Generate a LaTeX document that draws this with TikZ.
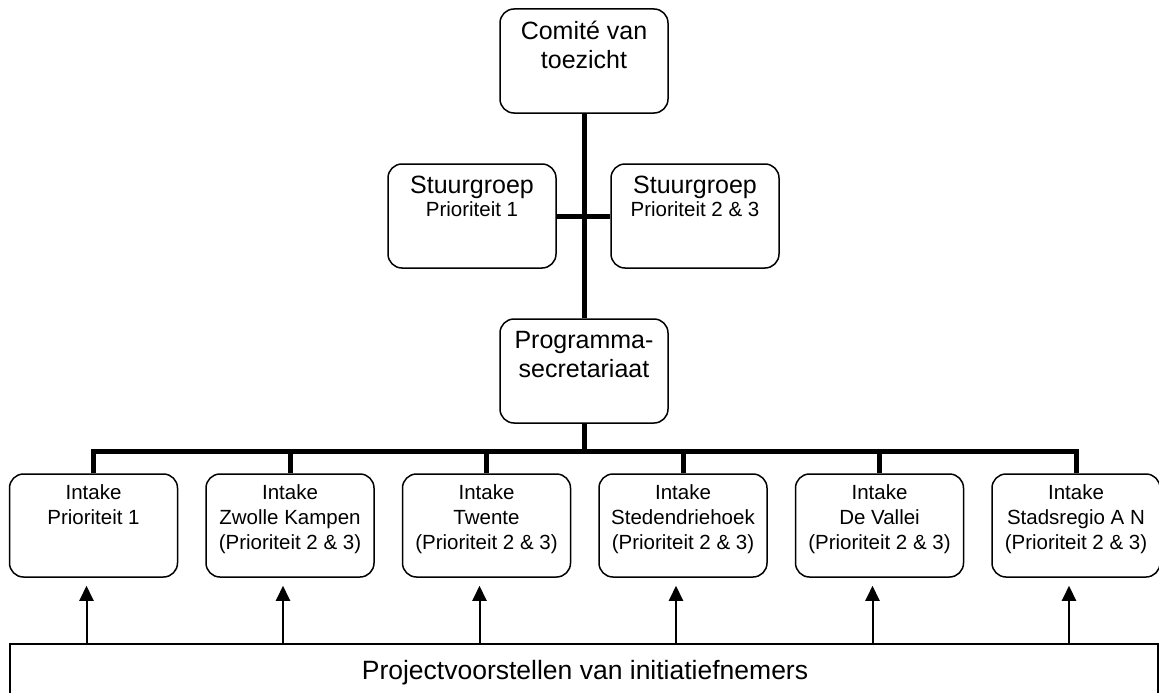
\documentclass[tikz,border=0pt]{standalone}
\usepackage{fontspec}
\setmainfont{Liberation Sans}
\usetikzlibrary{arrows.meta}
\newcommand{\bigfnt}{\fontsize{25}{29}\selectfont}
\newcommand{\smallfnt}{\fontsize{20.5}{25}\selectfont}

\begin{document}
\begin{tikzpicture}[x=1pt,y=-1pt,
  box/.style={draw,line width=1.5pt,rounded corners=14pt,minimum width=168pt,minimum height=104pt,inner sep=0pt},
  boxtext/.style={anchor=north,align=center,inner sep=0pt,yshift=-13pt,font=\bigfnt},
  intaketext/.style={anchor=north,align=center,inner sep=0pt,yshift=-11pt,font=\smallfnt},
  trunk/.style={line width=5pt},
  arr/.style={line width=2pt,-{Triangle[width=14pt,length=15pt]}}]
\useasboundingbox (0,0) rectangle (1159,693);

\node[box,label={[boxtext]north:Comité van\\toezicht}] (comite) at (584,61) {};
\node[box,label={[boxtext]north:Stuurgroep\\[-6pt]{\smallfnt Prioriteit 1}}] (stl) at (472,216) {};
\node[box,label={[boxtext]north:Stuurgroep\\[-6pt]{\smallfnt Prioriteit 2 \& 3}}] (str) at (695,216) {};
\node[box,label={[boxtext]north:Programma-\\secretariaat}] (prog) at (584,371) {};

\draw[trunk] (comite) -- (prog);
\draw[trunk] (stl) -- (str);

\coordinate (bus) at (584,451);
\draw[trunk] (prog) -- (bus);

\node[font=\fontsize{26.5}{31}\selectfont] (proj) at (585,673) {Projectvoorstellen van initiatiefnemers};
\coordinate (ptop) at (584,644);
\draw[line width=1.5pt] (10,700) |- (ptop) -| (1158,700);

\foreach \place [count=\i] in {{Prioriteit 1},{Zwolle Kampen\\(Prioriteit 2 \& 3)},{Twente\\(Prioriteit 2 \& 3)},{Stedendriehoek\\(Prioriteit 2 \& 3)},{De Vallei\\(Prioriteit 2 \& 3)},{Stadsregio A N\\(Prioriteit 2 \& 3)}}
{
  \node[box,minimum height=103pt,label={[intaketext]north:Intake\\\place}] (in\i) at ({93.5+196.5*(\i-1)},525.5) {};
  \draw[trunk] (in\i.north) |- (bus);
  \draw[arr] ([xshift=-7pt]in\i.south |- ptop) -- ([xshift=-7pt,yshift=-8pt]in\i.south);
}
\end{tikzpicture}
\end{document}
